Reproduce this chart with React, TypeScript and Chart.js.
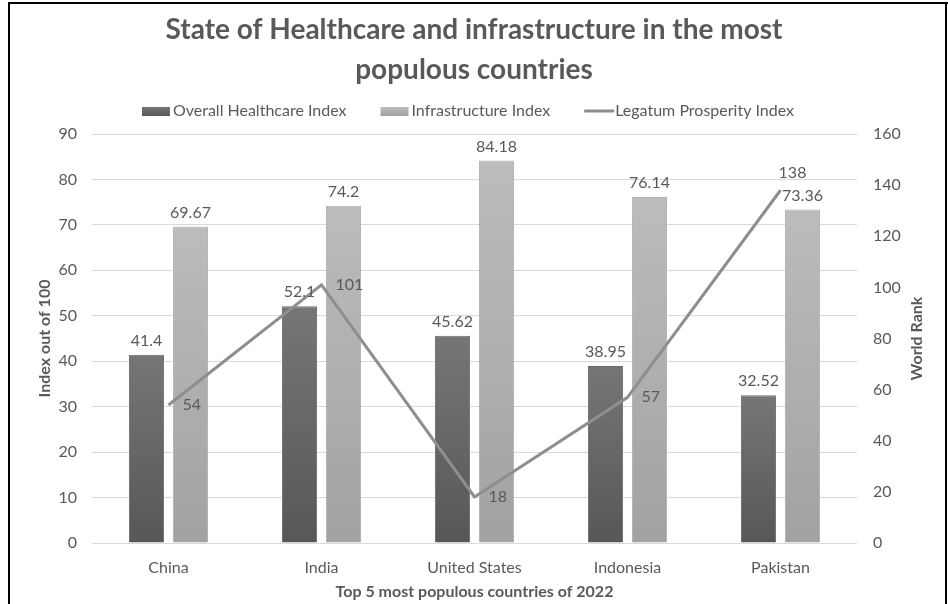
import React, { useEffect, useRef } from "react";
import { Chart, registerables } from "chart.js";

Chart.register(...registerables);

const categories = ["China", "India", "United States", "Indonesia", "Pakistan"];
const healthcareIndex = [41.4, 52.1, 45.62, 38.95, 32.52];
const infrastructureIndex = [69.67, 74.2, 84.18, 76.14, 73.36];
const prosperityRank = [54, 101, 18, 57, 138];
const seriesNames = ["Overall Healthcare Index", "Infrastructure Index", "Legatum Prosperity Index"];
const titleLines = ["State of Healthcare and infrastructure in the most", "populous countries"];
const leftAxisTitle = "Index out of 100";
const rightAxisTitle = "World Rank";
const xAxisTitle = "Top 5 most populous countries of 2022";

const TEXT = "#595959";
const FONT = "Lato, 'Open Sans', sans-serif";
const DARK_TOP = "#767676";
const DARK_BOTTOM = "#575757";
const LIGHT_TOP = "#bcbcbc";
const LIGHT_BOTTOM = "#a2a2a2";
const LINE_COLOR = "#8e8e8e";

function barGradient(top: string, bottom: string) {
  return (ctx: any) => {
    const chart = ctx.chart;
    const area = chart.chartArea;
    if (!area || ctx.type !== "data") return bottom;
    const yTop = chart.scales.y.getPixelForValue(ctx.raw);
    const g = chart.ctx.createLinearGradient(0, yTop, 0, area.bottom);
    g.addColorStop(0, top);
    g.addColorStop(1, bottom);
    return g;
  };
}

const decorPlugin = {
  id: "decor",
  afterDatasetsDraw(chart: any) {
    const ctx = chart.ctx;
    ctx.save();
    ctx.font = `16px ${FONT}`;
    ctx.fillStyle = TEXT;
    ctx.textBaseline = "middle";
    ctx.textAlign = "center";
    [1, 2].forEach((di) => {
      const meta = chart.getDatasetMeta(di);
      const data = chart.data.datasets[di].data;
      meta.data.forEach((bar: any, i: number) => {
        ctx.fillText(String(data[i]), bar.x, bar.y - 14);
      });
    });
    const lineMeta = chart.getDatasetMeta(0);
    const lineData = chart.data.datasets[0].data;
    lineMeta.data.forEach((pt: any, i: number) => {
      if (i === lineData.length - 1) {
        ctx.textAlign = "center";
        ctx.fillText(String(lineData[i]), pt.x + 12, pt.y - 17);
      } else {
        ctx.textAlign = "left";
        ctx.fillText(String(lineData[i]), pt.x + 14, pt.y);
      }
    });
    ctx.restore();
  },
  afterDraw(chart: any) {
    const ctx = chart.ctx;
    const area = chart.chartArea;
    ctx.save();
    // frame
    ctx.fillStyle = "#000";
    ctx.fillRect(8, 2, 2, 602);
    ctx.fillRect(8, 2, 940, 2);
    ctx.fillRect(945, 2, 2, 602);
    // title
    ctx.fillStyle = TEXT;
    ctx.textAlign = "center";
    ctx.textBaseline = "middle";
    ctx.font = `bold 28px ${FONT}`;
    ctx.fillText(titleLines[0], 474, 30);
    ctx.fillText(titleLines[1], 474, 70);
    // right axis title (reads bottom to top)
    ctx.save();
    ctx.font = `bold 16px ${FONT}`;
    ctx.translate(917, (area.top + area.bottom) / 2);
    ctx.rotate(-Math.PI / 2);
    ctx.fillText(rightAxisTitle, 0, 0);
    ctx.restore();
    // legend
    ctx.font = `16px ${FONT}`;
    ctx.textAlign = "left";
    const sw = 28;
    const gapText = 3;
    const gapItem = 34;
    const widths = seriesNames.map((s) => ctx.measureText(s).width);
    const total = widths.reduce((a, w) => a + sw + gapText + w, 0) + gapItem * 2;
    let x = 468 - total / 2;
    const ly = 111;
    const colors = [DARK_BOTTOM, LIGHT_BOTTOM, LINE_COLOR];
    seriesNames.forEach((s, i) => {
      ctx.fillStyle = colors[i];
      if (i < 2) {
        const g = ctx.createLinearGradient(0, ly - 4, 0, ly + 5);
        g.addColorStop(0, i === 0 ? DARK_TOP : LIGHT_TOP);
        g.addColorStop(1, i === 0 ? DARK_BOTTOM : LIGHT_BOTTOM);
        ctx.fillStyle = g;
        ctx.fillRect(x, ly - 4, sw, 9);
      } else {
        ctx.fillRect(x, ly - 1.5, sw + 2, 3);
      }
      ctx.fillStyle = TEXT;
      ctx.fillText(s, x + sw + gapText, ly);
      x += sw + gapText + widths[i] + gapItem;
    });
    ctx.restore();
  },
};

export default function App() {
  const canvasRef = useRef<HTMLCanvasElement | null>(null);

  useEffect(() => {
    if (!canvasRef.current) return;
    const tickFont = { family: FONT, size: 16 };
    const titleFont = { family: FONT, size: 16, weight: "bold" as const };
    const chart = new Chart(canvasRef.current, {
      type: "bar",
      data: {
        labels: categories,
        datasets: [
          {
            type: "line" as const,
            label: seriesNames[2],
            data: prosperityRank,
            yAxisID: "y1",
            borderColor: LINE_COLOR,
            borderWidth: 3,
            pointRadius: 0,
            tension: 0,
            order: 0,
          } as any,
          {
            label: seriesNames[0],
            data: healthcareIndex,
            yAxisID: "y",
            backgroundColor: barGradient(DARK_TOP, DARK_BOTTOM),
            borderColor: "#6a6a6a",
            borderWidth: 1,
            categoryPercentage: 0.575,
            barPercentage: 0.8,
            order: 1,
          },
          {
            label: seriesNames[1],
            data: infrastructureIndex,
            yAxisID: "y",
            backgroundColor: barGradient(LIGHT_TOP, LIGHT_BOTTOM),
            borderColor: "#b0b0b0",
            borderWidth: 1,
            categoryPercentage: 0.575,
            barPercentage: 0.8,
            order: 1,
          },
        ],
      },
      options: {
        responsive: false,
        animation: false,
        layout: { padding: { top: 134, left: 0, right: 0, bottom: 0 } },
        plugins: {
          legend: { display: false },
          title: { display: false },
          tooltip: { enabled: false },
        },
        scales: {
          x: {
            grid: { display: false },
            border: { display: false },
            ticks: { color: TEXT, font: tickFont, padding: 7 },
            title: {
              display: true,
              text: xAxisTitle,
              color: TEXT,
              font: titleFont,
              padding: { top: 0, bottom: 3 },
            },
            afterFit(s: any) {
              s.height = 61;
            },
          },
          y: {
            position: "left",
            min: 0,
            max: 90,
            ticks: { stepSize: 10, color: TEXT, font: tickFont, padding: 15 },
            grid: { color: "#d9d9d9", drawTicks: false },
            border: { display: false },
            title: {
              display: true,
              text: leftAxisTitle,
              color: TEXT,
              font: titleFont,
              padding: { top: 35, bottom: 0 },
            },
            afterFit(s: any) {
              s.width = 92;
            },
          },
          y1: {
            position: "right",
            min: 0,
            max: 160,
            ticks: { stepSize: 20, color: TEXT, font: tickFont, padding: 16 },
            grid: { display: false, drawTicks: false },
            border: { display: false },
            title: { display: false, text: rightAxisTitle },
            afterFit(s: any) {
              s.width = 91;
            },
          },
        },
      },
      plugins: [decorPlugin],
    });
    return () => chart.destroy();
  }, []);

  return (
    <div style={{ position: "absolute", left: 0, top: 0, width: 948, height: 604, background: "#fff" }}>
      <canvas ref={canvasRef} width={948} height={604} style={{ display: "block" }} />
    </div>
  );
}
